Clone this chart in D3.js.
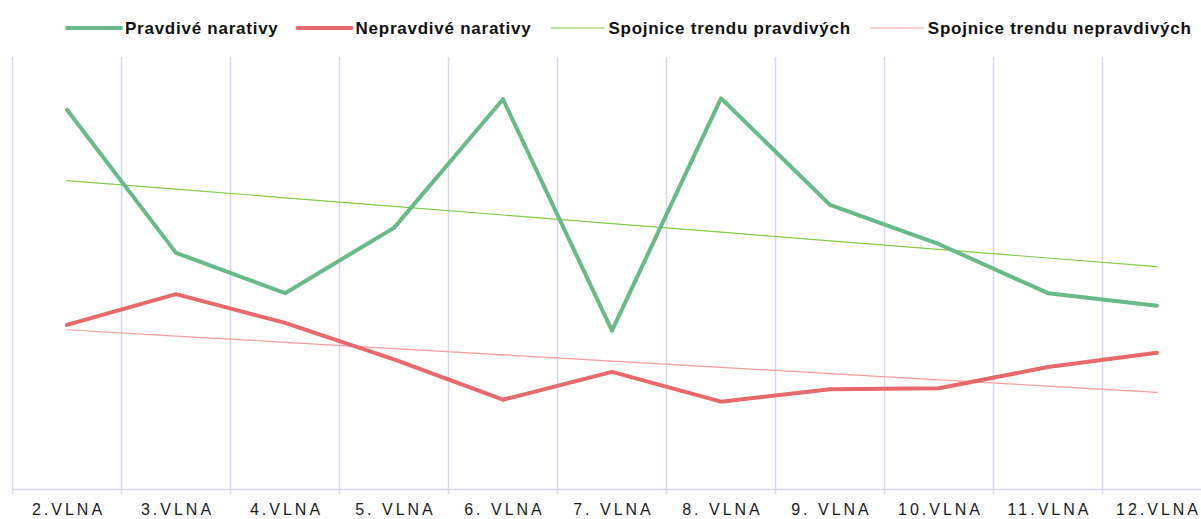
<!DOCTYPE html>
<html>
<head>
<meta charset="utf-8">
<script src="https://cdn.jsdelivr.net/npm/d3@7"></script>
<style>
  body { margin: 0; background: #fff; }
  text { font-family: "Liberation Sans", Arial, sans-serif; }
</style>
</head>
<body>
<div id="chart"></div>
<script>
// Graph dimension
const width = 1201, height = 519
const plot = { left: 12.5, right: 1211.5, top: 57, bottom: 489 }

// data
const waves = ["2.VLNA", "3.VLNA", "4.VLNA", "5. VLNA", "6. VLNA", "7. VLNA", "8. VLNA", "9. VLNA", "10.VLNA", "11.VLNA", "12.VLNA"]
const trueNarratives = [39.5, 24.6, 20.4, 27.2, 40.6, 16.5, 40.7, 29.6, 25.5, 20.4, 19.1]
const falseNarratives = [17.1, 20.3, 17.3, 13.5, 9.3, 12.2, 9.1, 10.4, 10.5, 12.7, 14.2]
const legendLabels = ["Pravdivé narativy", "Nepravdivé narativy", "Spojnice trendu pravdivých", "Spojnice trendu nepravdivých"]

const colors = ["#68ba88", "#e8686b", "#84cc44", "#ff9c9c"]
const widths = [4, 4, 1.2, 1.2]

// linear trend (least squares), like the spreadsheet trendline
function trend(values) {
    const mx = d3.mean(values, (d, i) => i)
    const my = d3.mean(values)
    let sxy = 0, sxx = 0
    values.forEach((v, i) => { sxy += (i - mx) * (v - my); sxx += (i - mx) * (i - mx) })
    const b = sxy / sxx, a = my - b * mx
    return values.map((v, i) => a + b * i)
}

const series = [trueNarratives, falseNarratives, trend(trueNarratives), trend(falseNarratives)]

const svg = d3.select("#chart").append("svg")
    .attr("width", width)
    .attr("height", height)

const x = d3.scaleBand()
    .domain(waves)
    .range([plot.left, plot.right])

const y = d3.scaleLinear()
    .domain([0, 45])
    .range([plot.bottom, plot.top])

// vertical gridlines at category boundaries
const bounds = waves.map(w => x(w))
svg.append("g")
    .selectAll("line")
    .data(bounds)
    .join("line")
    .attr("x1", d => d).attr("x2", d => d)
    .attr("y1", plot.top).attr("y2", plot.bottom + 5)
    .attr("stroke", "#d6d6ee")
    .attr("stroke-width", 1.5)

// x axis
const xAxis = svg.append("g")
    .attr("transform", `translate(0,${plot.bottom})`)
    .call(d3.axisBottom(x).tickSize(0).tickPadding(15))
xAxis.select(".domain").attr("stroke", "#d6d6ee").attr("stroke-width", 1.5)
xAxis.selectAll("text")
    .style("font-size", "16px")
    .style("letter-spacing", "3px")
    .attr("fill", "#1a1a1a")
    .attr("dx", "1.5px")

// lines
const line = d3.line()
    .x((d, i) => x(waves[i]) + x.bandwidth() / 2)
    .y(d => y(d))

// draw trend lines first, then the data lines on top
const order = [2, 3, 0, 1]
svg.append("g")
    .selectAll("path")
    .data(order)
    .join("path")
    .attr("d", k => line(series[k]))
    .attr("fill", "none")
    .attr("stroke", k => colors[k])
    .attr("stroke-width", k => widths[k])
    .attr("stroke-linejoin", "round")
    .attr("stroke-linecap", "round")

// legend
const legend = svg.append("g").attr("transform", "translate(0,28)")
let lx = 67
legendLabels.forEach((label, i) => {
    legend.append("line")
        .attr("x1", lx).attr("x2", lx + 54)
        .attr("y1", 0).attr("y2", 0)
        .attr("stroke", colors[i])
        .attr("stroke-width", i < 2 ? 4 : 1.2)
        .attr("stroke-linecap", i < 2 ? "round" : "butt")
    const t = legend.append("text")
        .attr("x", lx + 58)
        .attr("y", 6)
        .style("font-size", "17px")
        .style("font-weight", "bold")
        .style("letter-spacing", "0.75px")
        .attr("fill", "#111")
        .text(label)
    lx += 58 + t.node().getComputedTextLength() + 19
})
</script>
</body>
</html>
